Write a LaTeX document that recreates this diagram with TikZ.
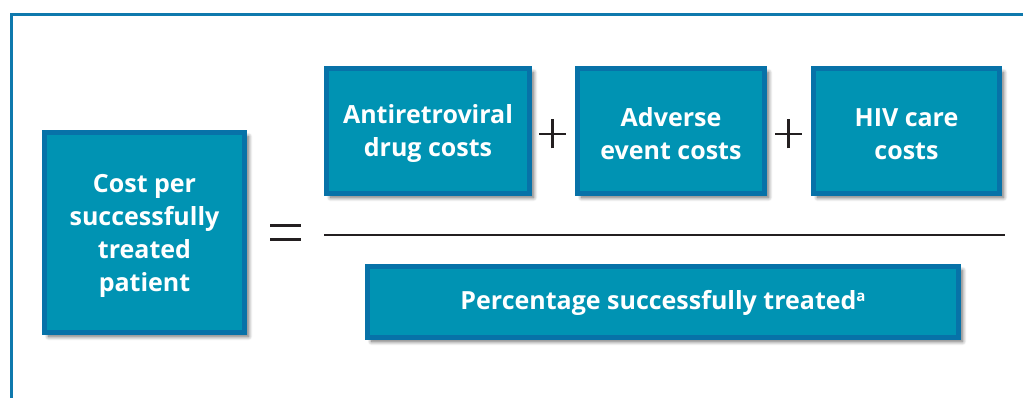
\documentclass[tikz,border=0pt]{standalone}
\usepackage{fontspec}
\setmainfont{Open Sans}
\usetikzlibrary{shadows.blur}
\definecolor{boxfill}{HTML}{0093B3}
\definecolor{boxedge}{HTML}{0772A8}
\definecolor{framecol}{HTML}{0F79AD}
\definecolor{ink}{HTML}{231F20}
\begin{document}
\begin{tikzpicture}[x=1pt,y=-1pt,
  termbox/.style={draw=boxedge, line width=5pt, fill=boxfill, inner sep=0pt,
    blur shadow={shadow xshift=4pt, shadow yshift=-4pt, shadow blur steps=10,
      shadow blur radius=4pt, shadow opacity=60}},
  termtext/.style={text=white, font=\fontsize{25}{33}\selectfont\bfseries,
    align=center, inner sep=0pt},
  opmark/.style={draw=ink, line width=2.5pt},
  barline/.style={draw=ink, line width=2.5pt}]
\useasboundingbox (0,0) rectangle (1023,398);

% panel frame
\draw[framecol, line width=3pt] (11.5,398) -- (11.5,15) -- (1023,15);

% left-hand side
\node[termbox, minimum width=200pt, minimum height=200pt] (lhs) at (144.5,232.5) {};
\node[termtext] (lhs-t) at ([yshift=-3pt]lhs.center)
  {Cost per\\successfully\\treated\\patient};

% numerator terms
\node[termbox, minimum width=203pt, minimum height=125pt] (arv) at (428,131) {};
\node[termtext] (arv-t) at ([yshift=-3pt]arv.center) {Antiretroviral\\drug costs};
\node[termbox, minimum width=187pt, minimum height=125pt] (ae) at (671,131) {};
\node[termtext] (ae-t) at ([yshift=-3pt]ae.center) {Adverse\\event costs};
\node[termbox, minimum width=186pt, minimum height=125pt] (hiv) at (906.5,131) {};
\node[termtext] (hiv-t) at ([yshift=-3pt]hiv.center) {HIV care\\costs};

% denominator
\node[termbox, minimum width=591pt, minimum height=71pt] (den) at (663,302) {};
\node[termtext] (den-t) at ([yshift=-0.5pt]den.center)
  {Percentage successfully treated\raisebox{8pt}{\fontsize{15}{15}\selectfont a}};

% plus signs between the numerator terms
\coordinate (p1) at (552.5,134);
\coordinate (p2) at (788.5,134);
\foreach \p in {p1,p2}{
  \draw[opmark] ([xshift=-13.5pt]\p) -- ([xshift=13.5pt]\p);
  \draw[opmark] ([yshift=-14.5pt]\p) -- ([yshift=14.5pt]\p);
}

% equals sign
\coordinate (eq) at (285.5,233);
\draw[barline, line width=3pt] ([xshift=-15.5pt,yshift=7pt]eq) -- ([xshift=15.5pt,yshift=7pt]eq);
\draw[barline, line width=3pt] ([xshift=-15.5pt,yshift=-7pt]eq) -- ([xshift=15.5pt,yshift=-7pt]eq);

% fraction bar
\coordinate (fl) at (324,235);
\coordinate (fr) at (1005,235);
\draw[barline] (fl) -- (fr);
\end{tikzpicture}
\end{document}
